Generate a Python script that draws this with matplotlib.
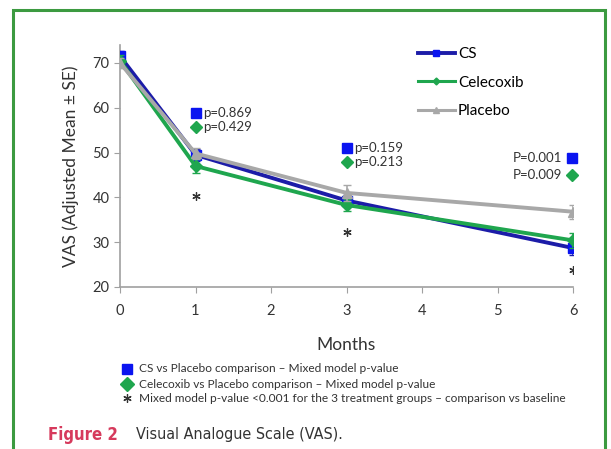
import matplotlib
matplotlib.use('Agg')
import matplotlib.pyplot as plt
from matplotlib.lines import Line2D
from matplotlib.patches import Rectangle

# data
months = [0, 1, 3, 6]
cs = [71.5, 49.5, 39.3, 28.7]
cs_se = [1.2, 1.3, 1.3, 1.5]
celecoxib = [70.5, 47.0, 38.3, 30.4]
celecoxib_se = [1.2, 1.5, 1.3, 1.6]
placebo = [70.0, 49.8, 41.0, 36.8]
placebo_se = [1.2, 1.3, 1.8, 1.6]

# p-values (CS vs placebo, celecoxib vs placebo) at each follow-up
p_months = [1, 3, 6]
p_cs = ['p=0.869', 'p=0.159', 'P=0.001']
p_cel = ['p=0.429', 'p=0.213', 'P=0.009']
star_y = [40.4, 32.2, 23.8]

W, H = 611, 449
plt.rcParams['font.family'] = ['Lato', 'DejaVu Sans']
fig = plt.figure(figsize=(W / 100, H / 100), dpi=100)

def fx(px):
    return px / W

def fy(py):
    return 1 - py / H

ax = fig.add_axes([fx(120), fy(287), fx(573) - fx(120), fy(45) - fy(287)])

blue_line, blue_mk = '#1c1ca8', '#0a14f0'
green = '#1fa64e'
gray = '#a8a8a8'
txt = '#333333'

ax.errorbar(months, cs, yerr=cs_se, color=blue_line, lw=2.8, marker='s', ms=7,
            mfc=blue_mk, mec=blue_mk, capsize=3, elinewidth=1.2, zorder=3)
ax.errorbar(months, celecoxib, yerr=celecoxib_se, color=green, lw=2.8, marker='D', ms=6,
            mfc=green, mec=green, capsize=3, elinewidth=1.2, zorder=4)
ax.errorbar(months, placebo, yerr=placebo_se, color=gray, lw=2.8, marker='^', ms=7,
            mfc=gray, mec=gray, capsize=3, elinewidth=1.2, zorder=5)

ax.set_xlim(0, 6)
ax.set_ylim(20, 74)
ax.set_xticks(range(7))
ax.set_yticks([20, 30, 40, 50, 60, 70])
for s in ['top', 'right']:
    ax.spines[s].set_visible(False)
for s in ['left', 'bottom']:
    ax.spines[s].set_color('#a0a0a0')
    ax.spines[s].set_linewidth(1.2)
ax.tick_params(colors='#a0a0a0', labelcolor=txt, labelsize=10.5, length=4)
ax.tick_params(axis='x', pad=8)
ax.set_xlabel('Months', fontsize=12.5, color=txt, labelpad=14)
ax.set_ylabel('VAS (Adjusted Mean \u00b1 SE)', fontsize=12.5, color=txt, labelpad=10)

# p-value labels
offs = [(1.0, 58.9, 55.6), (3.0, 51.1, 47.8), (5.99, 48.7, 45.1)]
for i, m in enumerate(p_months):
    x, y1, y2 = offs[i]
    ax.plot(x, y1, marker='s', ms=7, color=blue_mk, ls='none', clip_on=False)
    ax.plot(x, y2, marker='D', ms=6.5, color=green, ls='none', clip_on=False)
    if m < 6:
        ax.text(x + 0.1, y1, p_cs[i], fontsize=9.5, color=txt, va='center')
        ax.text(x + 0.1, y2, p_cel[i], fontsize=9.5, color=txt, va='center')
    else:
        ax.text(x - 0.13, y1, p_cs[i], fontsize=9.5, color=txt, va='center', ha='right')
        ax.text(x - 0.13, y2, p_cel[i], fontsize=9.5, color=txt, va='center', ha='right')
ax.plot(p_months, star_y, marker=(6, 2, 0), ms=6, mew=0.9, color=txt, ls='none')

handles = [Line2D([], [], color=blue_line, lw=2.8, marker='s', ms=5, mfc=blue_mk, mec=blue_mk),
           Line2D([], [], color=green, lw=2.2, marker='D', ms=3.5),
           Line2D([], [], color=gray, lw=2.2, marker='^', ms=4)]
ax.legend(handles, ['CS', 'Celecoxib', 'Placebo'], loc='upper left',
          bbox_to_anchor=(fx(412), fy(41)), bbox_transform=fig.transFigure,
          frameon=False, fontsize=11, labelspacing=0.95, handlelength=2.4,
          handletextpad=0.2, borderaxespad=0)

# footnote legend
notes = ['CS vs Placebo comparison \u2013 Mixed model p-value',
         'Celecoxib vs Placebo comparison \u2013 Mixed model p-value',
         'Mixed model p-value <0.001 for the 3 treatment groups \u2013 comparison vs baseline']
note_y = [369, 384, 398]
fig.add_artist(Line2D([fx(127)], [fy(note_y[0])], marker='s', ms=7, color=blue_mk, ls='none'))
fig.add_artist(Line2D([fx(127)], [fy(note_y[1])], marker='D', ms=7, color=green, ls='none'))
fig.add_artist(Line2D([fx(127)], [fy(note_y[2])], marker=(6, 2, 0), ms=6, mew=0.9,
                      color=txt, ls='none'))
for t, y in zip(notes, note_y):
    fig.text(fx(139), fy(y), t, fontsize=8.6, color=txt, va='center')

# caption
fig.text(fx(48), fy(435), 'Figure 2', fontsize=12, color='#d63a5c', va='center',
         family='DejaVu Sans', stretch='condensed', weight='semibold')
fig.text(fx(136), fy(435), 'Visual Analogue Scale (VAS).', fontsize=11.5, color=txt,
         va='center', family='DejaVu Sans', stretch='condensed')

# green frame
fig.add_artist(Rectangle((fx(13), fy(470)), fx(605) - fx(13), fy(10) - fy(470),
                         transform=fig.transFigure, fill=False, ec='#3c9a40', lw=2.2))

fig.savefig('out.png', dpi=100)
